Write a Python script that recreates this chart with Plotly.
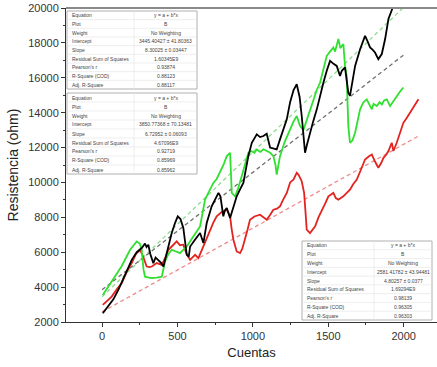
import plotly.graph_objects as go

# ---------------- data ----------------
black_x = [5, 40, 75, 108, 150, 197, 230, 263, 285, 295, 307, 320, 340, 355, 371, 390, 407, 430, 462, 485, 502, 520, 539, 555, 562, 575, 584, 615, 650, 672, 694, 727, 750, 772, 785, 793, 804, 815, 827, 849, 870, 893, 915, 937, 970, 993, 1026, 1048, 1070, 1092, 1114, 1136, 1158, 1180, 1200, 1225, 1247, 1270, 1291, 1310, 1324, 1335, 1346, 1360, 1379, 1400, 1424, 1446, 1468, 1490, 1512, 1535, 1556, 1578, 1590, 1611, 1622, 1633, 1644, 1660, 1678, 1711, 1744, 1760, 1777, 1795, 1810, 1832, 1855, 1877, 1899, 1932, 1950]
black_y = [2500, 2900, 3300, 3840, 4700, 5565, 6000, 6240, 6500, 6300, 6430, 5900, 5375, 5700, 5565, 5400, 5180, 6000, 7100, 7700, 8055, 7900, 7390, 6300, 5850, 5750, 6330, 6700, 7100, 6525, 7675, 8630, 9000, 9400, 9200, 8630, 8055, 8400, 8540, 7960, 8600, 9205, 9600, 9975, 11510, 12275, 12755, 12600, 12660, 12795, 12000, 11950, 11890, 12470, 13000, 13615, 14600, 15300, 15630, 14900, 13810, 12470, 11700, 12200, 12850, 13500, 14190, 15000, 15725, 16400, 16970, 16800, 16680, 16110, 16400, 16590, 15800, 15150, 14960, 15800, 16680, 17640, 18400, 18100, 17740, 17600, 17450, 17070, 17360, 18220, 19370, 20130, 20600]

green_x = [5, 40, 86, 130, 186, 210, 230, 250, 263, 275, 285, 310, 330, 363, 396, 418, 440, 462, 495, 517, 540, 562, 605, 650, 683, 710, 738, 760, 782, 805, 827, 849, 855, 860, 882, 900, 926, 950, 970, 990, 1010, 1026, 1050, 1070, 1092, 1115, 1136, 1150, 1158, 1170, 1180, 1210, 1247, 1270, 1291, 1313, 1335, 1357, 1390, 1424, 1446, 1468, 1490, 1512, 1534, 1545, 1556, 1567, 1580, 1600, 1611, 1622, 1633, 1644, 1660, 1678, 1711, 1733, 1755, 1789, 1800, 1822, 1840, 1855, 1870, 1888, 1910, 1954, 1975, 1998]
green_y = [3550, 4000, 4600, 5200, 6140, 6400, 6620, 6500, 6140, 5000, 4600, 4550, 4510, 4550, 4600, 5470, 5900, 6140, 6000, 5950, 6150, 6330, 6900, 7480, 9015, 9500, 9975, 10200, 10550, 11000, 11510, 11700, 10500, 9400, 9205, 9600, 10355, 11100, 11700, 11800, 11700, 11890, 11750, 11900, 11800, 11700, 11510, 11000, 10450, 11000, 11510, 12300, 13040, 13500, 13810, 13230, 13000, 13600, 14500, 15300, 15725, 16500, 17260, 17500, 17740, 17500, 17900, 18220, 17700, 17930, 16680, 16110, 13230, 12275, 12400, 12850, 14190, 14600, 14765, 14190, 14500, 14380, 14600, 14470, 14700, 14765, 14380, 14950, 15200, 15440]

red_x = [5, 30, 64, 100, 130, 165, 197, 225, 252, 270, 296, 315, 330, 363, 396, 420, 440, 470, 495, 517, 539, 560, 584, 600, 617, 639, 655, 672, 694, 716, 738, 760, 793, 827, 849, 860, 871, 893, 915, 930, 948, 965, 981, 1010, 1048, 1070, 1092, 1115, 1136, 1160, 1180, 1200, 1225, 1247, 1269, 1291, 1302, 1324, 1340, 1350, 1357, 1379, 1395, 1413, 1435, 1457, 1480, 1501, 1534, 1550, 1567, 1600, 1620, 1644, 1665, 1689, 1715, 1744, 1770, 1789, 1810, 1832, 1850, 1866, 1885, 1899, 1921, 1932, 1954, 1975, 1998, 2020, 2042, 2070, 2098]
red_y = [2980, 3200, 3455, 3900, 4225, 4900, 5375, 5900, 6140, 5800, 5180, 5150, 5180, 5375, 5280, 5700, 6140, 6400, 6620, 6400, 6430, 5900, 5565, 5700, 5850, 5660, 6000, 6330, 6800, 7290, 7700, 8055, 8300, 8440, 8055, 7300, 6715, 6045, 5950, 6200, 6715, 7300, 7865, 8050, 8150, 8000, 7865, 8150, 8440, 8500, 8630, 9000, 9400, 10000, 10165, 10550, 10450, 10070, 9400, 8200, 7290, 7100, 7250, 7480, 8000, 8440, 8800, 9205, 9400, 9100, 9015, 9205, 9400, 9590, 9900, 10165, 10700, 11315, 11500, 11600, 11200, 10840, 11100, 11410, 11600, 11800, 12275, 11800, 12275, 12800, 13420, 13700, 14000, 14400, 14765]

# linear-fit dashed lines (end points)
fit_green_x = [0, 1990]
fit_green_y = [3445, 19960]
fit_gray_x = [0, 1998]
fit_gray_y = [3850, 17296]
fit_red_x = [0, 2098]
fit_red_y = [2581, 12657]

x_ticks = [0, 500, 1000, 1500, 2000]
y_ticks = [2000, 4000, 6000, 8000, 10000, 12000, 14000, 16000, 18000, 20000]

table_labels = ["Equation", "Plot", "Weight", "Intercept", "Slope",
                "Residual Sum of Squares", "Pearson's r", "R-Square (COD)", "Adj. R-Square"]
table1_values = ["y = a + b*x", "B", "No Weighting", "3445.40427 ± 41.80363", "8.30025 ± 0.03447",
                 "1.60345E9", "0.93874", "0.88123", "0.88117"]
table2_values = ["y = a + b*x", "B", "No Weighting", "3850.77368 ± 70.13481", "6.72952 ± 0.06093",
                 "4.67096E9", "0.92719", "0.85969", "0.85962"]
table3_values = ["y = a + b*x", "B", "No Weighting", "2581.41782 ± 43.94481", "4.80257 ± 0.0377",
                 "1.69294E9", "0.98139", "0.96305", "0.96303"]

# ---------------- figure ----------------
W, H = 437, 367
ML, MR, MT, MB = 66, 0, 8, 45
PW, PH = W - ML - MR, H - MT - MB

fig = go.Figure()
for fx, fy, col in [(fit_green_x, fit_green_y, "#8fdc8f"),
                    (fit_gray_x, fit_gray_y, "#707070"),
                    (fit_red_x, fit_red_y, "#ef8a8a")]:
    fig.add_trace(go.Scatter(x=fx, y=fy, mode="lines",
                             line=dict(color=col, width=1.3, dash="4px,3px"),
                             showlegend=False, hoverinfo="skip"))

for xs, ys, col in [(red_x, red_y, "#e3231f"),
                    (green_x, green_y, "#2fe02f"),
                    (black_x, black_y, "#000000")]:
    fig.add_trace(go.Scatter(x=xs, y=ys, mode="lines",
                             line=dict(color=col, width=1.8),
                             showlegend=False, hoverinfo="skip"))


def px2paper(px, py):
    return (px - ML) / PW, (H - MB - py) / PH


shapes = [dict(type="line", xref="paper", yref="paper", x0=0, x1=1, y0=1, y1=1,
               line=dict(color="#8a8a8a", width=2), layer="above")]
annotations = []


def add_table(x0, y0, x1, y1, xdiv, values):
    n = len(table_labels)
    rh = (y1 - y0) / n
    a, b = px2paper(x0, y0)
    c, d = px2paper(x1, y1)
    shapes.append(dict(type="rect", xref="paper", yref="paper", x0=a, y0=d, x1=c, y1=b,
                       fillcolor="white", line=dict(color="#b0b0b0", width=1), layer="above"))
    for i in range(1, n):
        _, yy = px2paper(0, y0 + i * rh)
        shapes.append(dict(type="line", xref="paper", yref="paper", x0=a, x1=c, y0=yy, y1=yy,
                           line=dict(color="#e2e2e2", width=0.6), layer="above"))
    xd, _ = px2paper(xdiv, 0)
    shapes.append(dict(type="line", xref="paper", yref="paper", x0=xd, x1=xd, y0=d, y1=b,
                       line=dict(color="#e2e2e2", width=0.6), layer="above"))
    xl, _ = px2paper(x0 + 3, 0)
    xv, _ = px2paper((xdiv + x1) / 2, 0)
    for i, (lab, val) in enumerate(zip(table_labels, values)):
        _, yc = px2paper(0, y0 + (i + 0.5) * rh)
        annotations.append(dict(x=xl, y=yc, xref="paper", yref="paper", text=lab,
                                showarrow=False, xanchor="left", yanchor="middle",
                                font=dict(size=5, color="#444")))
        annotations.append(dict(x=xv, y=yc, xref="paper", yref="paper", text=val,
                                showarrow=False, xanchor="center", yanchor="middle",
                                font=dict(size=5, color="#444")))


add_table(67, 11, 197, 89, 134, table1_values)
add_table(67, 93, 197, 174, 134, table2_values)
add_table(302, 241, 432, 320, 374, table3_values)

fig.update_layout(
    width=W, height=H,
    margin=dict(l=ML, r=MR, t=MT, b=MB, autoexpand=False),
    paper_bgcolor="white", plot_bgcolor="white",
    font=dict(family="Liberation Sans, Arial, sans-serif", color="#333"),
    shapes=shapes, annotations=annotations,
    xaxis=dict(range=[-239, 2221], tickvals=x_ticks, ticks="outside", ticklen=4,
               tickcolor="#333", showline=True, linecolor="#333", linewidth=1,
               mirror=False, showgrid=False, zeroline=False, automargin=False,
               tickfont=dict(size=11, color="#333"),
               minor=dict(tickvals=[-250, 250, 750, 1250, 1750], ticks="outside", ticklen=2, tickcolor="#333"),
               title=dict(text="Cuentas", font=dict(size=13, color="#222"), standoff=6)),
    yaxis=dict(range=[2000, 20000], tickvals=y_ticks, ticktext=[str(v) for v in y_ticks],
               ticks="outside", ticklen=4,
               tickcolor="#333", showline=True, linecolor="#333", linewidth=1,
               showgrid=False, zeroline=False, automargin=False,
               tickfont=dict(size=11, color="#333"),
               minor=dict(tickvals=[3000, 5000, 7000, 9000, 11000, 13000, 15000, 17000, 19000],
                          ticks="outside", ticklen=2, tickcolor="#333"),
               title=dict(text="Resistencia (ohm)", font=dict(size=14, color="#222"), standoff=6)),
)

fig.write_html("out.html", config={"displayModeBar": False},
               post_script="document.body.style.margin='0';document.body.style.padding='0';")
